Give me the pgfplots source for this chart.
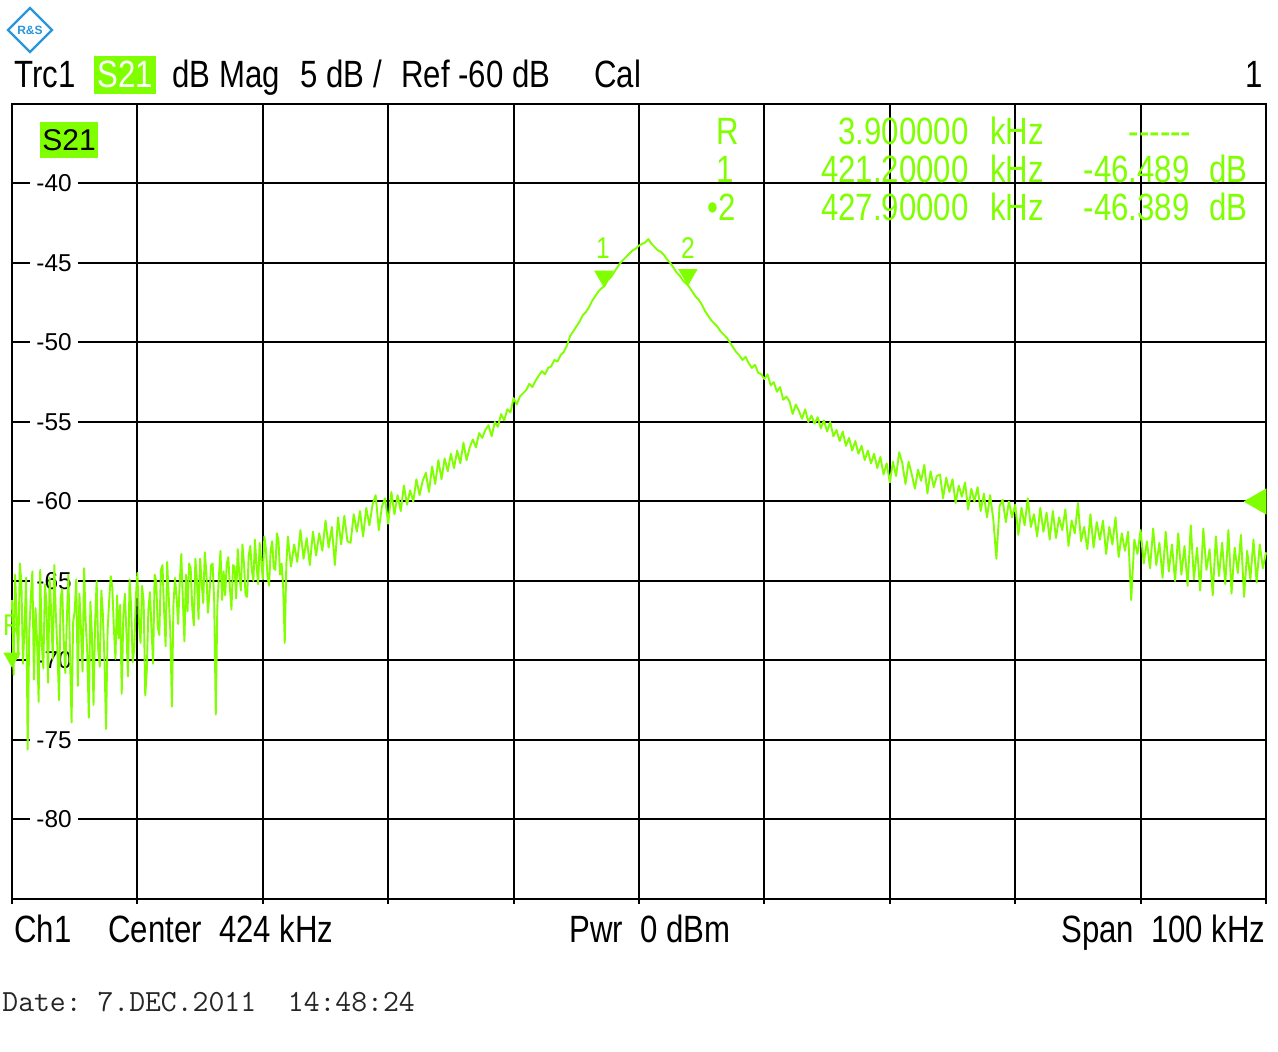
\documentclass[border=0pt]{standalone}
\usepackage{pgfplots}
\pgfplotsset{compat=1.18}
\usepackage{fontspec}
\setmainfont{Liberation Sans}
\newfontfamily\rsfont{Liberation Sans}[FakeStretch=0.82]
\definecolor{rsgreen}{RGB}{128,255,0}
\definecolor{rsblue}{RGB}{40,150,220}
\newcommand\hdr{\rsfont\fontsize{19pt}{22pt}\selectfont}
\newcommand\tlab{\fontsize{12.2pt}{13pt}\selectfont}
\begin{document}
\begin{tikzpicture}
\begin{scope}[shift={(-6pt,449.5pt)}, x=0.5pt, y=-0.5pt]
  \useasboundingbox (0,0) rectangle (1278,1052);
\end{scope}
\begin{axis}[
  at={(0,0)}, anchor=south west,
  scale only axis, width=627pt, height=397.5pt,
  xmin=374, xmax=474, ymin=-85, ymax=-35,
  xtick={374,384,...,474}, ytick={-80,-75,...,-40},
  xticklabels={}, yticklabels={},
  ticklabel style={inner sep=0pt, outer sep=0pt},
  grid=major, grid style={black, line width=1pt},
  axis line style={black, line width=1pt},
  xtick pos=left, ytick pos=left,
  xtick align=outside, ytick align=inside,
  major tick length=2.5pt,
  xtick style={black, line width=1pt},
  ytick style={draw=none},
  clip=false,
]
% y tick labels inside the plot, behind the trace
\foreach \v in {-80,-75,...,-40} {
  \edef\temp{\noexpand\node[fill=white, inner xsep=3pt, inner ysep=0pt, font=\noexpand\tlab] at (axis cs:377.35,\v) {\v};}
  \temp
}
\addplot[rsgreen, line width=0.95pt, line join=round, mark=none] coordinates {
(374.000,-66.2) (374.125,-70.9) (374.250,-64.6) (374.375,-67.3)
(374.500,-69.8) (374.625,-63.9) (374.750,-65.1) (374.875,-70.2)
(375.000,-67.9) (375.125,-64.8) (375.250,-75.6) (375.375,-68.3)
(375.500,-66.0) (375.625,-64.4) (375.750,-71.2) (375.875,-66.7)
(376.000,-68.8) (376.125,-72.6) (376.250,-64.3) (376.375,-69.0)
(376.500,-70.5) (376.625,-65.2) (376.750,-66.4) (376.875,-71.4)
(377.000,-64.8) (377.125,-67.0) (377.250,-69.9) (377.375,-64.0)
(377.500,-67.2) (377.625,-69.4) (377.750,-72.5) (377.875,-66.1)
(378.000,-65.5) (378.125,-68.7) (378.250,-70.8) (378.375,-67.4)
(378.500,-64.6) (378.625,-69.6) (378.750,-73.9) (378.875,-67.6)
(379.000,-66.9) (379.125,-64.9) (379.250,-71.6) (379.375,-65.8)
(379.500,-68.0) (379.625,-70.7) (379.750,-64.2) (379.875,-67.5)
(380.000,-69.5) (380.125,-73.6) (380.250,-66.3) (380.375,-68.4)
(380.500,-72.8) (380.625,-67.7) (380.750,-65.0) (380.875,-69.3)
(381.000,-70.4) (381.125,-65.6) (381.250,-67.1) (381.375,-70.0)
(381.500,-74.3) (381.625,-68.1) (381.750,-66.2) (381.875,-64.7)
(382.000,-65.4) (382.125,-68.0) (382.250,-69.9) (382.375,-65.9)
(382.500,-68.6) (382.625,-66.5) (382.750,-72.1) (382.875,-67.3)
(383.000,-65.8) (383.125,-68.2) (383.250,-71.0) (383.375,-64.9)
(383.500,-66.6) (383.625,-70.1) (383.750,-69.3) (383.875,-66.0)
(384.000,-64.5) (384.125,-67.6) (384.250,-68.9) (384.375,-65.3)
(384.500,-66.3) (384.625,-72.2) (384.750,-70.6) (384.875,-66.8)
(385.000,-65.7) (385.125,-68.0) (385.250,-70.2) (385.375,-64.6)
(385.500,-65.0) (385.625,-67.9) (385.750,-68.4) (385.875,-64.3)
(386.000,-64.0) (386.125,-66.8) (386.250,-69.1) (386.375,-63.8)
(386.500,-66.0) (386.625,-68.2) (386.750,-72.9) (386.875,-66.5)
(387.000,-64.8) (387.125,-66.0) (387.250,-67.7) (387.375,-65.1)
(387.500,-63.3) (387.625,-66.2) (387.750,-68.8) (387.875,-64.6)
(388.000,-66.9) (388.125,-63.9) (388.250,-64.2) (388.375,-66.7)
(388.500,-67.8) (388.625,-63.6) (388.750,-65.0) (388.875,-67.4)
(389.000,-63.6) (389.125,-65.1) (389.250,-66.4) (389.375,-63.2)
(389.500,-64.5) (389.625,-67.0) (389.750,-65.8) (389.875,-64.0)
(390.000,-63.9) (390.125,-66.3) (390.250,-73.4) (390.375,-66.6)
(390.500,-64.7) (390.625,-63.1) (390.750,-66.2) (390.875,-64.4)
(391.000,-65.9) (391.125,-63.9) (391.250,-63.5) (391.375,-65.4)
(391.500,-66.8) (391.625,-64.0) (391.750,-64.1) (391.875,-66.1)
(392.000,-63.0) (392.125,-64.6) (392.250,-65.6) (392.375,-62.7)
(392.500,-63.9) (392.625,-65.9) (392.750,-66.0) (392.875,-63.4)
(393.000,-62.8) (393.125,-64.3) (393.250,-65.0) (393.375,-62.4)
(393.500,-64.0) (393.625,-65.2) (393.750,-62.6) (393.875,-63.7)
(394.000,-64.9) (394.125,-62.2) (394.250,-63.0) (394.375,-64.7)
(394.500,-65.3) (394.625,-63.1) (394.750,-62.5) (394.875,-64.2)
(395.000,-64.3) (395.125,-62.0) (395.250,-62.4) (395.375,-64.6)
(395.500,-63.9) (395.625,-65.4) (395.750,-68.9) (395.875,-64.0)
(396.00,-62.2) (396.25,-64.1) (396.50,-62.7) (396.75,-63.8)
(397.00,-61.8) (397.25,-63.6) (397.50,-62.3) (397.75,-64.0)
(398.00,-61.9) (398.25,-63.4) (398.50,-62.0) (398.75,-63.1)
(399.00,-61.2) (399.25,-62.9) (399.50,-61.6) (399.75,-64.0)
(400.00,-61.0) (400.25,-62.7) (400.50,-60.9) (400.75,-62.5)
(401.00,-62.6) (401.25,-60.8) (401.50,-61.9) (401.75,-60.6)
(402.00,-62.2) (402.25,-60.4) (402.50,-61.5) (402.75,-60.2)
(403.00,-59.6) (403.25,-61.8) (403.50,-60.3) (403.75,-59.8)
(404.00,-61.4) (404.25,-59.4) (404.50,-60.8) (404.75,-59.6)
(405.00,-60.6) (405.25,-59.0) (405.50,-60.2) (405.75,-59.3)
(406.00,-60.0) (406.25,-58.6) (406.50,-59.6) (406.75,-58.7)
(407.00,-58.2) (407.25,-59.4) (407.50,-57.8) (407.75,-58.9)
(408.00,-57.4) (408.25,-58.6) (408.50,-57.3) (408.75,-58.1)
(409.00,-57.0) (409.25,-57.9) (409.50,-56.8) (409.75,-57.6)
(410.00,-56.3) (410.25,-57.4) (410.50,-56.6) (410.75,-56.1)
(411.00,-56.6) (411.25,-55.7) (411.50,-56.0) (411.75,-55.5)
(412.00,-55.2) (412.25,-55.9) (412.50,-55.0) (412.75,-55.3)
(413.00,-54.5) (413.25,-54.9) (413.50,-54.2) (413.75,-54.4)
(414.00,-53.5) (414.25,-53.9) (414.50,-53.4) (414.75,-53.2)
(415.00,-53.0) (415.25,-52.6) (415.50,-52.8) (415.75,-52.4)
(416.00,-52.1) (416.25,-51.8) (416.50,-52.0) (416.75,-51.6)
(417.00,-51.5) (417.25,-51.1) (417.50,-51.2) (417.75,-50.8)
(418.00,-50.6) (418.25,-50.2) (418.50,-49.6) (418.75,-49.3)
(419.00,-49.0) (419.25,-48.7) (419.50,-48.3) (419.75,-48.1)
(420.00,-47.8) (420.25,-47.4) (420.50,-47.1) (420.75,-46.8)
(421.00,-46.6) (421.25,-46.45) (421.50,-46.1) (421.75,-45.9)
(422.00,-45.6) (422.25,-45.3) (422.50,-45.0) (422.75,-44.8)
(423.00,-44.6) (423.25,-44.4) (423.50,-44.2) (423.75,-44.1)
(424.00,-43.9) (424.25,-43.8) (424.50,-43.7) (424.75,-43.5)
(425.00,-43.8) (425.25,-44.0) (425.50,-44.2) (425.75,-44.3)
(426.00,-44.5) (426.25,-44.8) (426.50,-45.0) (426.75,-45.3)
(427.00,-45.6) (427.25,-45.8) (427.50,-46.1) (427.75,-46.3)
(428.00,-46.5) (428.25,-46.8) (428.50,-47.1) (428.75,-47.3)
(429.00,-47.6) (429.25,-48.0) (429.50,-48.3) (429.75,-48.6)
(430.00,-48.8) (430.25,-49.0) (430.50,-49.3) (430.75,-49.5)
(431.00,-49.7) (431.25,-50.0) (431.50,-50.3) (431.75,-50.6)
(432.00,-50.8) (432.25,-51.1) (432.50,-50.9) (432.75,-51.3)
(433.00,-51.6) (433.25,-51.4) (433.50,-51.9) (433.75,-52.0)
(434.00,-52.3) (434.25,-52.0) (434.50,-52.7) (434.75,-52.5)
(435.00,-53.1) (435.25,-52.8) (435.50,-53.6) (435.75,-53.4)
(436.00,-53.7) (436.25,-54.5) (436.50,-53.9) (436.75,-54.3)
(437.00,-54.8) (437.25,-54.2) (437.50,-55.0) (437.75,-54.6)
(438.00,-55.1) (438.25,-54.7) (438.50,-55.4) (438.75,-54.9)
(439.00,-55.6) (439.25,-55.0) (439.50,-55.9) (439.75,-55.5)
(440.00,-56.2) (440.25,-55.6) (440.50,-56.5) (440.75,-56.0)
(441.00,-56.8) (441.25,-56.2) (441.50,-57.0) (441.75,-56.5)
(442.00,-57.4) (442.25,-56.8) (442.50,-57.6) (442.75,-57.0)
(443.00,-57.9) (443.25,-57.2) (443.50,-58.3) (443.75,-57.6)
(444.00,-58.8) (444.25,-57.5) (444.50,-58.4) (444.75,-56.9)
(445.00,-57.6) (445.25,-58.9) (445.50,-57.5) (445.75,-58.3)
(446.00,-59.2) (446.25,-58.0) (446.50,-58.7) (446.75,-57.7)
(447.00,-59.5) (447.25,-58.1) (447.50,-59.1) (447.75,-58.4)
(448.00,-58.3) (448.25,-59.8) (448.50,-58.5) (448.75,-59.4)
(449.00,-58.6) (449.25,-60.1) (449.50,-59.0) (449.75,-59.7)
(450.00,-58.8) (450.25,-60.5) (450.50,-59.2) (450.75,-60.0)
(451.00,-59.1) (451.25,-60.6) (451.50,-59.5) (451.75,-61.0)
(452.00,-59.6) (452.25,-61.1) (452.50,-63.6) (452.75,-60.3)
(453.00,-59.9) (453.25,-61.3) (453.50,-60.0) (453.75,-61.0)
(454.00,-60.2) (454.25,-62.1) (454.50,-60.4) (454.75,-61.5)
(455.00,-59.8) (455.25,-61.6) (455.50,-60.8) (455.75,-62.2)
(456.00,-60.4) (456.25,-61.9) (456.50,-60.7) (456.75,-62.4)
(457.00,-60.6) (457.25,-62.3) (457.50,-61.0) (457.75,-61.8)
(458.00,-60.5) (458.25,-62.8) (458.50,-61.2) (458.75,-62.0)
(459.00,-60.1) (459.25,-62.5) (459.50,-61.6) (459.75,-63.0)
(460.00,-60.8) (460.25,-62.9) (460.50,-61.3) (460.75,-62.4)
(461.00,-61.2) (461.25,-63.3) (461.50,-61.6) (461.75,-62.7)
(462.00,-61.0) (462.25,-63.5) (462.50,-62.0) (462.75,-63.1)
(463.00,-61.9) (463.25,-66.2) (463.50,-62.4) (463.75,-63.3)
(464.00,-61.8) (464.25,-63.9) (464.50,-62.5) (464.75,-64.2)
(465.00,-61.7) (465.25,-64.0) (465.50,-62.6) (465.75,-64.8)
(466.00,-61.9) (466.25,-64.4) (466.50,-62.7) (466.75,-65.0)
(467.00,-62.0) (467.25,-64.6) (467.50,-62.8) (467.75,-65.3)
(468.00,-61.5) (468.25,-64.9) (468.50,-62.9) (468.75,-65.6)
(469.00,-61.7) (469.25,-64.3) (469.50,-63.0) (469.75,-65.9)
(470.00,-62.2) (470.25,-64.7) (470.50,-62.6) (470.75,-65.2)
(471.00,-61.8) (471.25,-65.8) (471.50,-62.9) (471.75,-64.5)
(472.00,-62.1) (472.25,-66.0) (472.50,-63.1) (472.75,-64.9)
(473.00,-62.4) (473.25,-65.1) (473.50,-62.7) (473.75,-64.2)
(474.00,-63.2)
};
% markers 1 and 2
\addplot[only marks, mark=triangle*, mark size=5.2pt,
  mark options={yshift=5.2pt, rotate=180, fill=rsgreen, draw=rsgreen}]
  coordinates {(421.2,-46.489) (427.9,-46.389)};
% reference marker R at left edge
\addplot[only marks, mark=triangle*, mark size=4.6pt,
  mark options={yshift=4.6pt, rotate=180, fill=rsgreen, draw=rsgreen}]
  coordinates {(374,-70.4)};
% reference level arrow on the right
\addplot[only marks, mark=triangle*, mark size=7.2pt,
  mark options={xshift=-3.6pt, rotate=90, fill=rsgreen, draw=rsgreen}]
  coordinates {(474,-60)};
\node[inner sep=0pt, text=rsgreen, font=\rsfont\fontsize{15pt}{16pt}\selectfont] at (axis cs:421.13,-44.06) {1};
\node[inner sep=0pt, text=rsgreen, font=\rsfont\fontsize{15pt}{16pt}\selectfont] at (axis cs:427.9,-44.06) {2};
\node[inner sep=0pt, text=rsgreen, font=\rsfont\fontsize{15pt}{16pt}\selectfont] at (axis cs:374,-67.77) {R};
\end{axis}
\begin{scope}[shift={(-6pt,449.5pt)}, x=0.5pt, y=-0.5pt]
  % logo
  \draw[rsblue, line width=1.2pt] (30,8) -- (52,30) -- (30,52) -- (8,30) -- cycle;
  \node[inner sep=0pt, text=rsblue, font=\bfseries\fontsize{6pt}{7pt}\selectfont] at (30,30) {R\&S};
  % header
  \node[anchor=base west, inner sep=0pt, font=\hdr] at (14,88) {Trc1};
  \fill[rsgreen] (94,56) rectangle (156,94);
  \node[anchor=base, inner sep=0pt, text=white, font=\hdr] at (125,88) {S21};
  \node[anchor=base west, inner sep=0pt, font=\hdr] at (172,88) {dB Mag};
  \node[anchor=base west, inner sep=0pt, font=\hdr] at (300,88) {5 dB /};
  \node[anchor=base west, inner sep=0pt, font=\hdr] at (401,88) {Ref -60 dB};
  \node[anchor=base west, inner sep=0pt, font=\hdr] at (594,88) {Cal};
  \node[anchor=base east, inner sep=0pt, font=\hdr] at (1263,88) {1};
  % trace label inside plot
  \fill[rsgreen] (40,122) rectangle (98,158);
  \node[inner sep=0pt, font=\fontsize{15pt}{16pt}\selectfont] at (69,140) {S21};
  % marker table
  \begin{scope}[every node/.style={inner sep=0pt, text=rsgreen, font=\hdr}]
    \node[anchor=base east] at (739,145) {R};
    \node[anchor=base east] at (969,145) {3.900000};
    \node[anchor=base west] at (990,145) {kHz};
    \node[anchor=base] at (1160,145) {------};
    \node[anchor=base east] at (734,183) {1};
    \node[anchor=base east] at (969,183) {421.20000};
    \node[anchor=base west] at (990,183) {kHz};
    \node[anchor=base east] at (1190,183) {-46.489};
    \node[anchor=base west] at (1209,183) {dB};
    \node[anchor=base east] at (736,221) {\textbullet 2};
    \node[anchor=base east] at (969,221) {427.90000};
    \node[anchor=base west] at (990,221) {kHz};
    \node[anchor=base east] at (1190,221) {-46.389};
    \node[anchor=base west] at (1209,221) {dB};
  \end{scope}
  % footer
  \node[anchor=base west, inner sep=0pt, font=\hdr] at (14,943) {Ch1};
  \node[anchor=base west, inner sep=0pt, font=\hdr] at (108,943) {Center\ \ 424 kHz};
  \node[anchor=base, inner sep=0pt, font=\hdr] at (650,943) {Pwr\ \ 0 dBm};
  \node[anchor=base east, inner sep=0pt, font=\hdr] at (1266,943) {Span\ \ 100 kHz};
  \node[anchor=base west, inner sep=0pt, text=black!85, font=\ttfamily\fontsize{15.4pt}{16pt}\selectfont] at (2,1012) {Date:\ 7.DEC.2011\ \ 14:48:24};
\end{scope}
\end{tikzpicture}
\end{document}
